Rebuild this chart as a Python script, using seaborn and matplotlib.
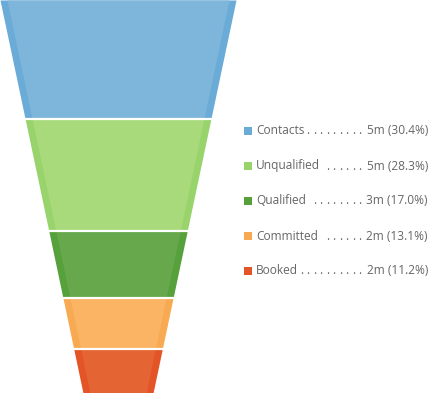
import matplotlib
matplotlib.use("Agg")
import matplotlib.pyplot as plt
import seaborn as sns
import numpy as np

stages = ["Contacts", "Unqualified", "Qualified", "Committed", "Booked"]
values_label = ["5m", "5m", "3m", "2m", "2m"]
percents = [30.4, 28.3, 17.0, 13.1, 11.2]
dot_counts = [9, 6, 8, 6, 10]

fill_colors = ["#7EB6DB", "#A8DA7C", "#66A84B", "#FAB464", "#E56433"]
edge_colors = ["#6AABD7", "#98D36C", "#56A13B", "#F8AA52", "#E35526"]

sns.set_theme(style="white")
plt.rcParams["font.family"] = ["Open Sans", "DejaVu Sans"]

W, H = 429, 393
fig = plt.figure(figsize=(W / 100, H / 100), dpi=100)
ax = fig.add_axes([0, 0, 1, 1])
ax.set_xlim(0, W)
total = sum(percents)
ax.set_ylim(total, 0)
ax.axis("off")

center = 118.0
top_half = 118.0
bottom_half = 35.0
band = 7.0


def half_width(y):
    return top_half - (top_half - bottom_half) * y / total


cum = np.concatenate([[0], np.cumsum(percents)])
for i, name in enumerate(stages):
    y0, y1 = cum[i], cum[i + 1]
    ys = np.array([y0, y1])
    hw = half_width(ys)
    ax.fill_betweenx(ys, center - hw, center + hw, color=edge_colors[i], lw=0)
    ax.fill_betweenx(ys, center - hw + band, center + hw - band,
                     color=fill_colors[i], lw=0)
    if i > 0:
        hw0 = half_width(y0)
        ax.plot([center - hw0 - 1, center + hw0 + 1], [y0, y0],
                color="white", lw=1.6, solid_capstyle="butt")

# legend
row_px = [131, 166, 201, 236, 271]
txt_color = "#666666"
fs = 8.6
dot_step = 6.5
dot_end = 360
for i, name in enumerate(stages):
    y = row_px[i] / H * total
    ax.scatter([247.5], [y], marker="s", s=36, color=edge_colors[i], lw=0)
    ax.text(256, y, name, ha="left", va="center", fontsize=fs, color=txt_color)
    for k in range(dot_counts[i]):
        ax.text(dot_end - k * dot_step, y, ".", ha="center", va="center",
                fontsize=fs, color=txt_color)
    ax.text(428, y, f"{values_label[i]} ({percents[i]:.1f}%)", ha="right",
            va="center", fontsize=fs, color=txt_color)

fig.savefig("out.png", dpi=100)
